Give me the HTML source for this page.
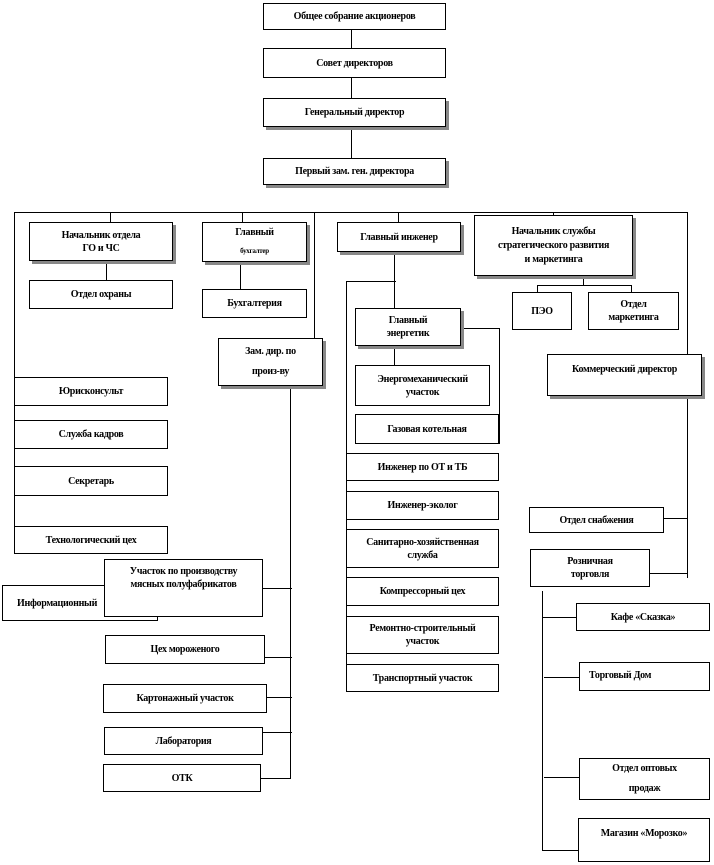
<!DOCTYPE html>
<html><head><meta charset="utf-8"><style>
body{margin:0;width:714px;height:865px;background:#fff;position:relative;overflow:hidden;font-family:"Liberation Serif","DejaVu Serif",serif;}
.b{position:absolute;box-sizing:border-box;border:1px solid #000;background:#fff;display:flex;align-items:center;justify-content:center;text-align:center;font-weight:bold;font-size:10px;line-height:13px;color:#000;letter-spacing:-0.3px}
.s{box-shadow:3px 3px 0 #888}
svg{position:absolute;left:0;top:0}
</style></head><body>
<svg width="714" height="865" stroke="#000" stroke-width="1" fill="none" shape-rendering="crispEdges">
<path d="M351.5 30V48M351.5 78V98M351.5 127V158"/>
<path d="M14.5 212.5H687.5M14.5 212V540M110.5 212V222M242.5 212V222M314.5 212V338M398.5 212V222M553.5 212V215M687.5 212V578"/>
<path d="M106.5 261V280M240.5 262V289"/>
<path d="M290.5 386V778.5H261M263 588.5H292M265 657.5H292M267 697.5H292M263 732.5H292"/>
<path d="M394.5 252V308M346.5 281.5H396M346.5 281V692M394.5 346V365M461 328.5H499.5V444"/>
<path d="M583.5 276V285.5M537.5 285.5H631.5M537.5 285V292M631.5 285V292"/>
<path d="M664 518.5H687M650 573.5H687"/>
<path d="M542.5 591V850.5H578M542 617.5H576M544 677.5H579M544 777.5H579"/>
</svg>
<div class="b" style="left:263px;top:3px;width:183px;height:27px">Общее собрание акционеров</div>
<div class="b" style="left:263px;top:48px;width:183px;height:30px">Совет директоров</div>
<div class="b s" style="left:263px;top:98px;width:183px;height:29px">Генеральный директор</div>
<div class="b s" style="left:263px;top:158px;width:183px;height:27px">Первый зам. ген. директора</div>

<div class="b s" style="left:29px;top:222px;width:144px;height:39px">Начальник отдела<br>ГО и ЧС</div>
<div class="b" style="left:29px;top:280px;width:144px;height:29px">Отдел охраны</div>
<div class="b s" style="left:202px;top:222px;width:105px;height:40px;line-height:18px"><div>Главный<br><span style="font-size:7px">бухгалтер</span></div></div>
<div class="b" style="left:202px;top:289px;width:105px;height:29px">Бухгалтерия</div>
<div class="b s" style="left:218px;top:338px;width:105px;height:48px;line-height:20px">Зам. дир. по<br>произ-ву</div>

<div class="b" style="left:14px;top:377px;width:154px;height:29px">Юрисконсульт</div>
<div class="b" style="left:14px;top:420px;width:154px;height:29px">Служба кадров</div>
<div class="b" style="left:14px;top:466px;width:154px;height:30px">Секретарь</div>
<div class="b" style="left:14px;top:526px;width:154px;height:28px">Технологический цех</div>
<div class="b" style="left:2px;top:585px;width:156px;height:36px;justify-content:flex-start;padding-left:14px">Информационный</div>
<div class="b" style="left:104px;top:559px;width:159px;height:58px;align-items:flex-start;padding-top:5px">Участок по производству<br>мясных полуфабрикатов</div>
<div class="b" style="left:105px;top:635px;width:160px;height:29px">Цех мороженого</div>
<div class="b" style="left:103px;top:684px;width:164px;height:29px">Картонажный участок</div>
<div class="b" style="left:104px;top:727px;width:159px;height:28px">Лаборатория</div>
<div class="b" style="left:103px;top:764px;width:158px;height:28px">ОТК</div>

<div class="b s" style="left:337px;top:222px;width:124px;height:30px">Главный инженер</div>
<div class="b s" style="left:355px;top:308px;width:106px;height:38px">Главный<br>энергетик</div>
<div class="b" style="left:355px;top:365px;width:135px;height:41px">Энергомеханический<br>участок</div>
<div class="b" style="left:355px;top:414px;width:144px;height:30px">Газовая котельная</div>
<div class="b" style="left:346px;top:453px;width:153px;height:28px">Инженер по ОТ и ТБ</div>
<div class="b" style="left:346px;top:491px;width:153px;height:29px">Инженер-эколог</div>
<div class="b" style="left:346px;top:529px;width:153px;height:39px">Санитарно-хозяйственная<br>служба</div>
<div class="b" style="left:346px;top:577px;width:153px;height:29px">Компрессорный цех</div>
<div class="b" style="left:346px;top:616px;width:153px;height:38px">Ремонтно-строительный<br>участок</div>
<div class="b" style="left:346px;top:664px;width:153px;height:28px">Транспортный участок</div>

<div class="b s" style="left:474px;top:215px;width:159px;height:61px;line-height:14px">Начальник службы<br>стратегического развития<br>и маркетинга</div>
<div class="b" style="left:512px;top:292px;width:60px;height:38px">ПЭО</div>
<div class="b" style="left:588px;top:292px;width:91px;height:38px">Отдел<br>маркетинга</div>
<div class="b s" style="left:547px;top:354px;width:155px;height:42px;align-items:flex-start;padding-top:8px">Коммерческий директор</div>
<div class="b" style="left:529px;top:507px;width:135px;height:26px">Отдел снабжения</div>
<div class="b" style="left:530px;top:549px;width:120px;height:38px">Розничная<br>торговля</div>
<div class="b" style="left:576px;top:603px;width:134px;height:28px">Кафе «Сказка»</div>
<div class="b" style="left:579px;top:662px;width:131px;height:29px;justify-content:flex-start;padding-left:9px;align-items:flex-start;padding-top:6px">Торговый Дом</div>
<div class="b" style="left:579px;top:758px;width:131px;height:42px;line-height:20px">Отдел оптовых<br>продаж</div>
<div class="b" style="left:578px;top:818px;width:132px;height:44px;align-items:flex-start;padding-top:8px">Магазин «Морозко»</div>
</body></html>
